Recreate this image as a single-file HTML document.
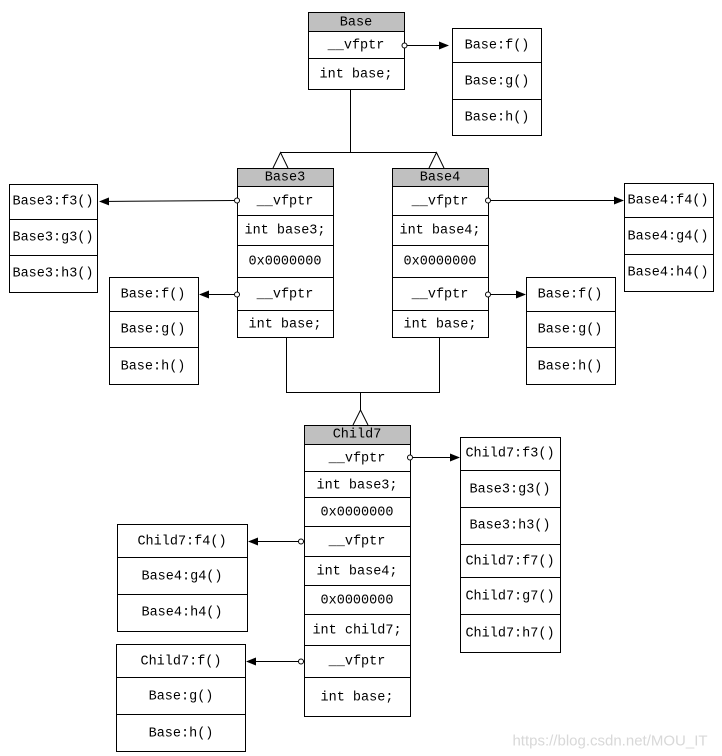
<!DOCTYPE html>
<html><head><meta charset="utf-8"><style>
html,body{margin:0;padding:0;background:#fff;width:722px;height:756px;overflow:hidden}
svg text{font-family:"Liberation Mono","DejaVu Sans Mono",monospace;font-size:13.5px;fill:#000;text-anchor:middle;dominant-baseline:central}
</style></head><body>
<svg width="722" height="756" xmlns="http://www.w3.org/2000/svg" stroke-width="1">
<defs><marker id="a" markerWidth="10" markerHeight="8" refX="9" refY="4" orient="auto" markerUnits="userSpaceOnUse"><path d="M0,0 L10,4 L0,8z" fill="#000"/></marker></defs>
<g fill="none" stroke="#000">
<rect x="308.5" y="12.5" width="96" height="19" fill="#c0c0c0"/>
<rect x="308.5" y="31.5" width="96" height="58"/>
<line x1="308" y1="58.5" x2="404" y2="58.5"/>
<rect x="452.5" y="28.5" width="89" height="107"/>
<line x1="452" y1="62.5" x2="541" y2="62.5"/><line x1="452" y1="99.5" x2="541" y2="99.5"/>
<line x1="407" y1="45.5" x2="448" y2="45.5" marker-end="url(#a)"/>
<polyline points="350.5,89 350.5,152.5 280.5,152.5"/><line x1="350" y1="152.5" x2="436" y2="152.5"/>
<polyline points="273,168 280.5,152.5 288,168"/><polyline points="429,168 436.5,152.5 444,168"/>
<rect x="237.5" y="168.5" width="96" height="18" fill="#c0c0c0"/>
<rect x="237.5" y="186.5" width="96" height="151"/>
<line x1="237" y1="215.5" x2="333" y2="215.5"/><line x1="237" y1="245.5" x2="333" y2="245.5"/>
<line x1="237" y1="277.5" x2="333" y2="277.5"/><line x1="237" y1="310.5" x2="333" y2="310.5"/>
<rect x="392.5" y="168.5" width="96" height="18" fill="#c0c0c0"/>
<rect x="392.5" y="186.5" width="96" height="151"/>
<line x1="392" y1="215.5" x2="488" y2="215.5"/><line x1="392" y1="245.5" x2="488" y2="245.5"/>
<line x1="392" y1="277.5" x2="488" y2="277.5"/><line x1="392" y1="310.5" x2="488" y2="310.5"/>
<rect x="9.5" y="184.5" width="88" height="108"/>
<line x1="9" y1="219.5" x2="97" y2="219.5"/><line x1="9" y1="255.5" x2="97" y2="255.5"/>
<line x1="234" y1="200.5" x2="100" y2="201.5" marker-end="url(#a)"/>
<rect x="109.5" y="277.5" width="89" height="107"/>
<line x1="109" y1="311.5" x2="198" y2="311.5"/><line x1="109" y1="347.5" x2="198" y2="347.5"/>
<line x1="234" y1="294.5" x2="200" y2="294.5" marker-end="url(#a)"/>
<rect x="624.5" y="183.5" width="89" height="108"/>
<line x1="624" y1="217.5" x2="713" y2="217.5"/><line x1="624" y1="254.5" x2="713" y2="254.5"/>
<line x1="491" y1="200.5" x2="623" y2="200.5" marker-end="url(#a)"/>
<rect x="526.5" y="277.5" width="89" height="107"/>
<line x1="526" y1="311.5" x2="615" y2="311.5"/><line x1="526" y1="347.5" x2="615" y2="347.5"/>
<line x1="491" y1="294.5" x2="525" y2="294.5" marker-end="url(#a)"/>
<polyline points="286.5,337 286.5,392.5 439.5,392.5 439.5,337"/>
<line x1="360.5" y1="392" x2="360.5" y2="410"/>
<polyline points="353,425 360.5,410 368,425"/>
<rect x="304.5" y="425.5" width="106" height="19" fill="#c0c0c0"/>
<rect x="304.5" y="444.5" width="106" height="272"/>
<line x1="304" y1="471.5" x2="410" y2="471.5"/><line x1="304" y1="497.5" x2="410" y2="497.5"/>
<line x1="304" y1="526.5" x2="410" y2="526.5"/><line x1="304" y1="556.5" x2="410" y2="556.5"/>
<line x1="304" y1="585.5" x2="410" y2="585.5"/><line x1="304" y1="614.5" x2="410" y2="614.5"/>
<line x1="304" y1="645.5" x2="410" y2="645.5"/><line x1="304" y1="677.5" x2="410" y2="677.5"/>
<rect x="460.5" y="437.5" width="100" height="215"/>
<line x1="460" y1="470.5" x2="560" y2="470.5"/><line x1="460" y1="507.5" x2="560" y2="507.5"/>
<line x1="460" y1="544.5" x2="560" y2="544.5"/><line x1="460" y1="577.5" x2="560" y2="577.5"/>
<line x1="460" y1="614.5" x2="560" y2="614.5"/>
<line x1="413" y1="457.5" x2="459" y2="457.5" marker-end="url(#a)"/>
<rect x="117.5" y="524.5" width="130" height="107"/>
<line x1="117" y1="557.5" x2="247" y2="557.5"/><line x1="117" y1="594.5" x2="247" y2="594.5"/>
<line x1="301" y1="541.5" x2="249" y2="541.5" marker-end="url(#a)"/>
<rect x="116.5" y="644.5" width="129" height="107"/>
<line x1="116" y1="677.5" x2="245" y2="677.5"/><line x1="116" y1="714.5" x2="245" y2="714.5"/>
<line x1="301" y1="661.5" x2="247" y2="661.5" marker-end="url(#a)"/>
<g fill="#fff">
<circle cx="404.5" cy="45.5" r="2.5"/>
<circle cx="237" cy="200.5" r="2.5"/><circle cx="237" cy="294.5" r="2.5"/>
<circle cx="488" cy="200.5" r="2.5"/><circle cx="488" cy="294.5" r="2.5"/>
<circle cx="410" cy="457.5" r="2.5"/><circle cx="301" cy="541.5" r="2.5"/><circle cx="301" cy="661.5" r="2.5"/>
</g>
</g>
<g transform="translate(0,1)">
<text x="356" y="22">Base</text><text x="356" y="45">__vfptr</text><text x="356" y="74">int base;</text>
<text x="497" y="45">Base:f()</text><text x="497" y="81">Base:g()</text><text x="497" y="117">Base:h()</text>
<text x="285" y="177">Base3</text><text x="285" y="201">__vfptr</text><text x="285" y="230">int base3;</text><text x="285" y="261">0x0000000</text><text x="285" y="294">__vfptr</text><text x="285" y="324">int base;</text>
<text x="440" y="177">Base4</text><text x="440" y="201">__vfptr</text><text x="440" y="230">int base4;</text><text x="440" y="261">0x0000000</text><text x="440" y="294">__vfptr</text><text x="440" y="324">int base;</text>
<text x="53" y="201">Base3:f3()</text><text x="53" y="237">Base3:g3()</text><text x="53" y="273">Base3:h3()</text>
<text x="153" y="294">Base:f()</text><text x="153" y="329">Base:g()</text><text x="153" y="366">Base:h()</text>
<text x="668" y="200">Base4:f4()</text><text x="668" y="236">Base4:g4()</text><text x="668" y="272">Base4:h4()</text>
<text x="570" y="294">Base:f()</text><text x="570" y="329">Base:g()</text><text x="570" y="366">Base:h()</text>
<text x="357" y="434">Child7</text><text x="357" y="458">__vfptr</text><text x="357" y="485">int base3;</text><text x="357" y="512">0x0000000</text><text x="357" y="541">__vfptr</text><text x="357" y="571">int base4;</text><text x="357" y="600">0x0000000</text><text x="357" y="630">int child7;</text><text x="357" y="661">__vfptr</text><text x="357" y="697">int base;</text>
<text x="510" y="453">Child7:f3()</text><text x="510" y="489">Base3:g3()</text><text x="510" y="525">Base3:h3()</text><text x="510" y="561">Child7:f7()</text><text x="510" y="596">Child7:g7()</text><text x="510" y="633">Child7:h7()</text>
<text x="182" y="541">Child7:f4()</text><text x="182" y="576">Base4:g4()</text><text x="182" y="612">Base4:h4()</text>
<text x="181" y="661">Child7:f()</text><text x="181" y="696">Base:g()</text><text x="181" y="733">Base:h()</text>
<text x="610" y="740" style="font-family:'Liberation Sans',sans-serif;font-size:15px;fill:#d8d8d8">https://blog.csdn.net/MOU_IT</text>
</g>
</svg>
</body></html>
